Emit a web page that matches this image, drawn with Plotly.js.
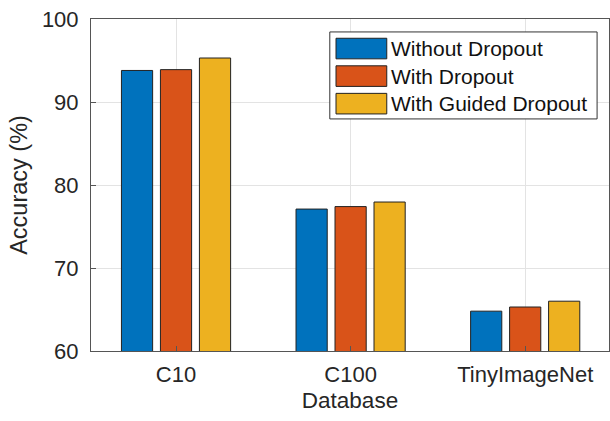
<!DOCTYPE html>
<html><head><meta charset="utf-8">
<script src="https://cdn.plot.ly/plotly-3.0.1.min.js"></script>
<style>html,body{margin:0;padding:0;background:#fff}#chart{width:610px;height:421px}</style>
</head><body><div id="chart"></div>
<script>
const categories = ["C10", "C100", "TinyImageNet"];
const seriesNames = ["Without Dropout", "With Dropout", "With Guided Dropout"];
const withoutDropout = [93.8, 77.1, 64.8];
const withDropout = [93.9, 77.4, 65.3];
const withGuided = [95.3, 77.95, 66.0];
const colors = ["#0072BD", "#D95319", "#EDB120"];
const yTicks = [60, 70, 80, 90, 100];

const values = [withoutDropout, withDropout, withGuided];
const traces = values.map((v, i) => ({
  type: "bar", x: categories, y: v, name: seriesNames[i],
  marker: {color: colors[i], line: {color: "#222", width: 1}},
  showlegend: false, hoverinfo: "none"
}));

const font = "Liberation Sans, Arial, sans-serif";
const shapes = [
  {type:"rect", xref:"paper", yref:"paper", x0:0.461, x1:0.977, y0:0.699, y1:0.961, line:{color:"#333", width:1}, fillcolor:"#fff"}
];
const annotations = [];
const rowY = [0.911, 0.828, 0.745];
seriesNames.forEach((n, i) => {
  shapes.push({type:"rect", xref:"paper", yref:"paper", x0:0.473, x1:0.571, y0:rowY[i]-0.031, y1:rowY[i]+0.031, line:{color:"#222", width:1}, fillcolor:colors[i]});
  annotations.push({xref:"paper", yref:"paper", x:0.576, y:rowY[i], text:n, showarrow:false, xanchor:"left", yanchor:"middle", font:{family:font, size:21, color:"#111"}});
});

const layout = {
  width: 610, height: 421,
  margin: {l: 91, r: 1, t: 19, b: 70},
  paper_bgcolor: "#fff", plot_bgcolor: "#fff",
  bargap: 0.33, bargroupgap: 0.2, barmode: "group",
  font: {family: font, color: "#262626"},
  xaxis: {
    type: "category", range: [-0.487, 2.48],
    showgrid: true, gridcolor: "#e3e3e3", gridwidth: 1,
    ticks: "inside", ticklen: 5, tickcolor: "#555",
    showline: true, linecolor: "#555", linewidth: 1, mirror: true,
    tickfont: {size: 22, color: "#262626"}, ticklabelstandoff: 4,
    title: {text: "Database", font: {size: 22.5, color: "#262626"}, standoff: 5}
  },
  yaxis: {
    range: [60, 100], tickvals: yTicks,
    showgrid: true, gridcolor: "#e3e3e3", gridwidth: 1, zeroline: false,
    ticks: "inside", ticklen: 5, tickcolor: "#555",
    showline: true, linecolor: "#555", linewidth: 1, mirror: true,
    tickfont: {size: 22, color: "#262626"}, ticklabelstandoff: 7,
    title: {text: "Accuracy (%)", font: {size: 23.5, color: "#262626"}, standoff: 7}
  },
  shapes: shapes, annotations: annotations
};
Plotly.newPlot("chart", traces, layout, {staticPlot: true, displayModeBar: false});
</script></body></html>
